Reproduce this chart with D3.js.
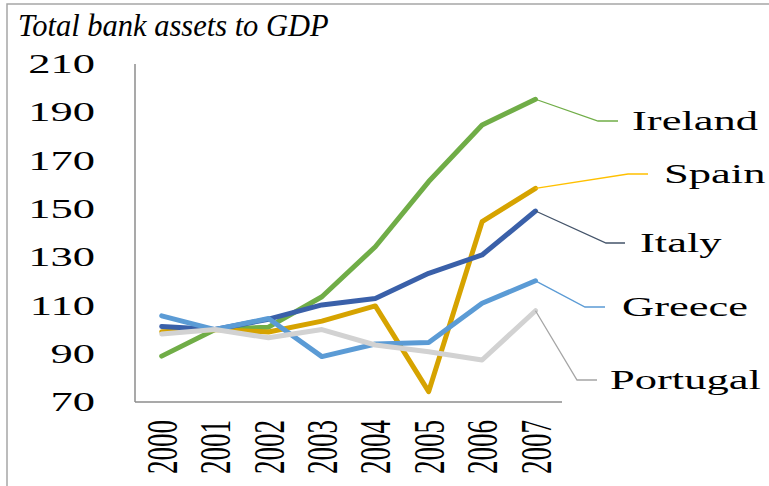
<!DOCTYPE html>
<html>
<head>
<meta charset="utf-8">
<script src="https://cdn.jsdelivr.net/npm/d3@7"></script>
<style>
  html, body { margin: 0; padding: 0; background: #fff; }
  svg { display: block; }
</style>
</head>
<body>
<svg id="chart" width="769" height="486"></svg>
<script>
// Bank assets as % of GDP, 2000-2007
const years = ["2000", "2001", "2002", "2003", "2004", "2005", "2006", "2007"];
const ireland  = [89, 100, 101, 113.6, 134.3, 161.3, 184.7, 195.4];
const spain    = [99.1, 100, 99, 103.5, 109.8, 74.3, 144.7, 158.5];
const italy    = [101.3, 100, 104.3, 110.2, 112.9, 123.3, 130.9, 149.1];
const greece   = [105.7, 100, 104.6, 88.8, 94, 94.6, 110.9, 120.2];
const portugal = [98.2, 100, 96.6, 100, 93.6, 90.8, 87.4, 107.8];
const yTicks   = [70, 90, 110, 130, 150, 170, 190, 210];

// Series drawing order (last is on top), colours and label callouts
const series = [
  { name: "Ireland",  values: ireland,  color: "#70AD47", leader: "#70AD47", elbow: [598, 121], end: 618, labelX: 632 },
  { name: "Spain",    values: spain,    color: "#D6A300", leader: "#FFC000", elbow: [628, 174], end: 648, labelX: 664 },
  { name: "Italy",    values: italy,    color: "#3A60A9", leader: "#44546A", elbow: [606, 243], end: 625, labelX: 640 },
  { name: "Greece",   values: greece,   color: "#5B9BD5", leader: "#5B9BD5", elbow: [585, 307], end: 605, labelX: 622 },
  { name: "Portugal", values: portugal, color: "#D2D2D2", leader: "#A5A5A5", elbow: [577, 380], end: 597, labelX: 610 }
];

const FONT = '"Liberation Serif", "Times New Roman", Tinos, serif';
const svg = d3.select("#chart");
const SX = 1.65;        // horizontal stretch of chart text
const FS = 27;          // chart text size

// outer frame
svg.append("rect")
  .attr("x", 7).attr("y", 4).attr("width", 800).attr("height", 520)
  .attr("fill", "none").attr("stroke", "#a6a6a6").attr("stroke-width", 1.5);

// title
svg.append("text")
  .attr("x", 18).attr("y", 36)
  .style("font-family", FONT)
  .style("font-size", "30.5px").style("font-style", "italic")
  .text("Total bank assets to GDP");

const x = d3.scalePoint().domain(years).range([161.7, 535.5]);
const y = d3.scaleLinear().domain([70, 210]).range([402, 64]);

// axes lines
svg.append("line")
  .attr("x1", 135).attr("x2", 135).attr("y1", y(210)).attr("y2", y(70))
  .attr("stroke", "#8c8c8c").attr("stroke-width", 1.5);
svg.append("line")
  .attr("x1", 135).attr("x2", 562).attr("y1", y(70)).attr("y2", y(70))
  .attr("stroke", "#8c8c8c").attr("stroke-width", 1.5);

// y tick labels
svg.append("g").selectAll("text").data(yTicks).join("text")
  .attr("transform", d => `translate(95,${y(d)}) scale(${SX},1)`)
  .attr("dy", "0.34em")
  .attr("text-anchor", "end")
  .style("font-family", FONT).style("font-size", FS + "px")
  .text(d => d);

// x tick labels (rotated)
svg.append("g").selectAll("text").data(years).join("text")
  .attr("transform", d => `translate(${x(d)},420) scale(${SX},1) rotate(-90)`)
  .attr("dy", "0.34em")
  .attr("text-anchor", "end")
  .style("font-family", FONT).style("font-size", FS + "px")
  .text(d => d);

const line = d3.line()
  .x((d, i) => x(years[i]))
  .y(d => y(d));

// series lines
svg.append("g").selectAll("path").data(series).join("path")
  .attr("d", s => line(s.values))
  .attr("fill", "none")
  .attr("stroke", s => s.color)
  .attr("stroke-width", 5)
  .attr("stroke-linejoin", "round")
  .attr("stroke-linecap", "round");

// label callouts from the last point
const lastYear = years[years.length - 1];
const callouts = svg.append("g");
series.forEach(s => {
  const px = x(lastYear), py = y(s.values[s.values.length - 1]);
  callouts.append("polyline")
    .attr("points", `${px},${py} ${s.elbow[0]},${s.elbow[1]} ${s.end},${s.elbow[1]}`)
    .attr("fill", "none")
    .attr("stroke", s.leader)
    .attr("stroke-width", 1.3);
  callouts.append("text")
    .attr("transform", `translate(${s.labelX},${s.elbow[1]}) scale(${SX},1)`)
    .attr("dy", "0.34em")
    .style("font-family", FONT).style("font-size", FS + "px")
    .text(s.name);
});
</script>
</body>
</html>
